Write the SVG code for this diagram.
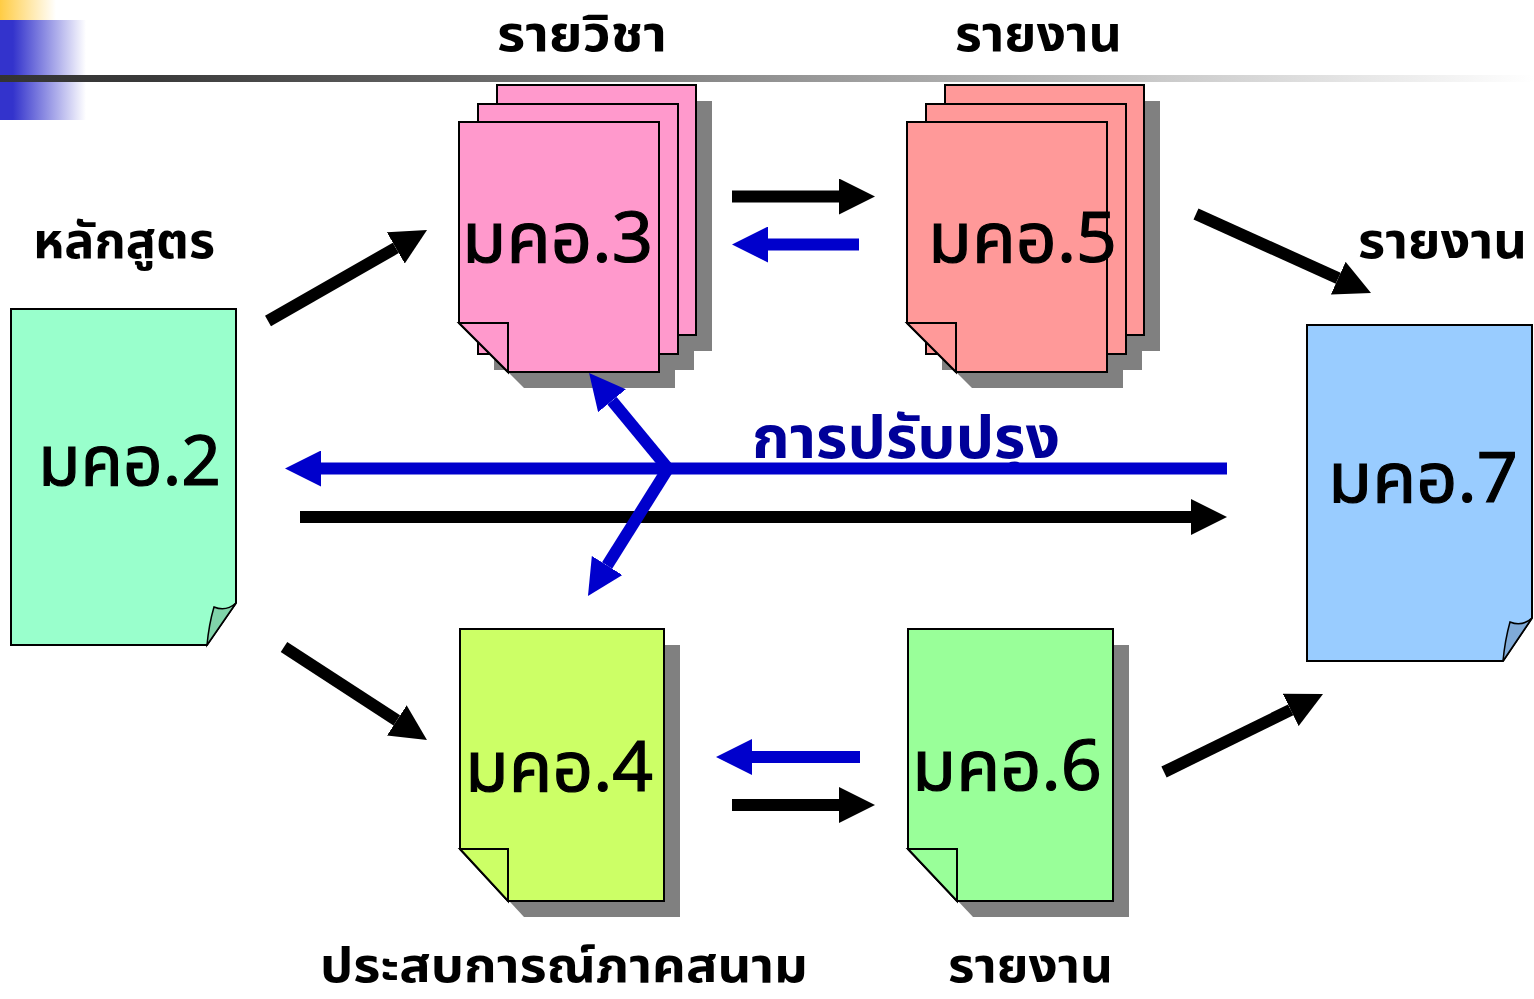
<svg xmlns="http://www.w3.org/2000/svg" width="1534" height="999" viewBox="0 0 1534 999">
<defs>
<style>
.pg{stroke:#000;stroke-width:2;stroke-linejoin:miter}
.sh{fill:#808080}
.doc{font-family:"Noto Sans Thai","Tahoma","DejaVu Sans",sans-serif;font-size:70px;fill:#000;stroke:#000;stroke-width:1.2}
.lbl{font-family:"Noto Sans Thai","Tahoma","DejaVu Sans",sans-serif;font-size:50px;font-weight:bold;fill:#000}
.blk{stroke:#000;stroke-width:12;fill:none}
.blu{stroke:#0000CC;stroke-width:12;fill:none}
</style>
<linearGradient id="gy" x1="0" x2="1" y1="0" y2="0"><stop offset="0" stop-color="#FFCC44"/><stop offset="1" stop-color="#FFFFFF"/></linearGradient>
<linearGradient id="gb" x1="0" x2="1" y1="0" y2="0"><stop offset="0" stop-color="#3333CC"/><stop offset="0.15" stop-color="#3333CC"/><stop offset="1" stop-color="#FFFFFF"/></linearGradient>
<linearGradient id="gl" x1="0" x2="1" y1="0" y2="0"><stop offset="0" stop-color="#333333"/><stop offset="0.1" stop-color="#3a3a3a"/><stop offset="1" stop-color="#FFFFFF"/></linearGradient>
<marker id="ak" markerUnits="strokeWidth" markerWidth="3" markerHeight="3" viewBox="0 0 3 3" refX="0" refY="1.5" orient="auto"><path d="M0,0 L3,1.5 L0,3 Z" fill="#000"/></marker>
<marker id="ab" markerUnits="strokeWidth" markerWidth="3" markerHeight="3" viewBox="0 0 3 3" refX="0" refY="1.5" orient="auto"><path d="M0,0 L3,1.5 L0,3 Z" fill="#0000CC"/></marker>
</defs>
<rect width="1534" height="999" fill="#fff"/>
<g id="header">
<rect x="0" y="0" width="56" height="20" fill="url(#gy)"/>
<rect x="0" y="20" width="86" height="100" fill="url(#gb)"/>
<rect x="0" y="75" width="1534" height="7" fill="url(#gl)"/>
</g>

<g id="n2">
<path class="pg" d="M11,309 H236 V603 L207,645 H11 Z" fill="#99FFCC"/>
<path d="M236,603 L207,645 Q209,624 214,607 Q226,612 236,603 Z" fill="#80D4AA" stroke="#000" stroke-width="1.5"/>
<text class="doc" x="38" y="485" textLength="183" lengthAdjust="spacingAndGlyphs">มคอ.2</text>
</g>

<g id="n3">
<path class="sh" d="M513,101 H712 V351 H513 Z"/>
<path class="sh" d="M494,120 H694 V370 H494 Z"/>
<path class="sh" d="M475,138 H675 V388 H524 L475,339 Z"/>
<path class="pg" d="M497,85 H696 V335 H497 Z" fill="#FF99CC"/>
<path class="pg" d="M478,104 H678 V354 H478 Z" fill="#FF99CC"/>
<path class="pg" d="M459,122 H659 V372 H508 L459,323 Z" fill="#FF99CC"/>
<path class="pg" d="M459,323 H508 V372 Z" fill="#FF99CC"/>
<text class="doc" x="462" y="262" textLength="191" lengthAdjust="spacingAndGlyphs">มคอ.3</text>
</g>

<g id="n5">
<path class="sh" d="M961,101 H1160 V351 H961 Z"/>
<path class="sh" d="M942,120 H1142 V370 H942 Z"/>
<path class="sh" d="M923,138 H1123 V388 H972 L923,339 Z"/>
<path class="pg" d="M945,85 H1144 V335 H945 Z" fill="#FF9999"/>
<path class="pg" d="M926,104 H1126 V354 H926 Z" fill="#FF9999"/>
<path class="pg" d="M907,122 H1107 V372 H956 L907,323 Z" fill="#FF9999"/>
<path class="pg" d="M907,323 H956 V372 Z" fill="#FF9999"/>
<text class="doc" x="928" y="262" textLength="189" lengthAdjust="spacingAndGlyphs">มคอ.5</text>
</g>

<g id="n4">
<path class="sh" d="M476,645 H680 V917 H524 L476,865 Z"/>
<path class="pg" d="M460,629 H664 V901 H508 L460,849 Z" fill="#CCFF66"/>
<path class="pg" d="M460,849 H508 V901 Z" fill="#CCFF66"/>
<text class="doc" x="465" y="791" textLength="188" lengthAdjust="spacingAndGlyphs">มคอ.4</text>
</g>

<g id="n6">
<path class="sh" d="M924,645 H1129 V917 H973 L924,865 Z"/>
<path class="pg" d="M908,629 H1113 V901 H957 L908,849 Z" fill="#99FF99"/>
<path class="pg" d="M908,849 H957 V901 Z" fill="#99FF99"/>
<text class="doc" x="912" y="790" textLength="190" lengthAdjust="spacingAndGlyphs">มคอ.6</text>
</g>

<g id="n7">
<path class="pg" d="M1307,325 H1532 V618 L1503,661 H1307 Z" fill="#99CCFF"/>
<path d="M1532,618 L1503,661 Q1505,640 1510,622 Q1522,627 1532,618 Z" fill="#7FAAD8" stroke="#000" stroke-width="1.5"/>
<text class="doc" x="1328" y="502" textLength="190" lengthAdjust="spacingAndGlyphs">มคอ.7</text>
</g>

<g id="labels">
<text class="lbl" x="497" y="51" textLength="170" lengthAdjust="spacingAndGlyphs">รายวิชา</text>
<text class="lbl" x="955" y="51" textLength="167" lengthAdjust="spacingAndGlyphs">รายงาน</text>
<text class="lbl" x="33" y="258" textLength="182" lengthAdjust="spacingAndGlyphs">หลักสูตร</text>
<text class="lbl" x="1358" y="258" textLength="169" lengthAdjust="spacingAndGlyphs">รายงาน</text>
<text class="lbl" x="320" y="982" textLength="488" lengthAdjust="spacingAndGlyphs" style="font-size:48px">ประสบการณ์ภาคสนาม</text>
<text class="lbl" x="948" y="982" textLength="165" lengthAdjust="spacingAndGlyphs" style="font-size:48px">รายงาน</text>
<text class="lbl" x="752" y="458" textLength="308" lengthAdjust="spacingAndGlyphs" style="fill:#000099;font-size:58px">การปรับปรุง</text>
</g>

<g id="connectors">
<line class="blk" x1="268" y1="321" x2="395.8" y2="247.9" marker-end="url(#ak)"/>
<line class="blk" x1="284" y1="647" x2="396.8" y2="720.4" marker-end="url(#ak)"/>
<line class="blk" x1="1196" y1="214" x2="1338.2" y2="278.2" marker-end="url(#ak)"/>
<line class="blk" x1="1164" y1="772" x2="1290.7" y2="709.9" marker-end="url(#ak)"/>
<line class="blk" x1="732" y1="196.5" x2="839" y2="196.5" marker-end="url(#ak)"/>
<line class="blu" x1="859" y1="244.5" x2="768" y2="244.5" marker-end="url(#ab)"/>
<line class="blu" x1="860" y1="757" x2="752" y2="757" marker-end="url(#ab)"/>
<line class="blk" x1="732" y1="805" x2="839" y2="805" marker-end="url(#ak)"/>
<line class="blk" x1="300" y1="517" x2="1191" y2="517" marker-end="url(#ak)"/>
<line class="blu" x1="1227" y1="468.5" x2="321" y2="468.5" marker-end="url(#ab)"/>
<line class="blu" x1="668" y1="468.5" x2="612" y2="400.7" marker-end="url(#ab)"/>
<line class="blu" x1="668" y1="468.5" x2="607.1" y2="565.5" marker-end="url(#ab)"/>
</g>
</svg>
